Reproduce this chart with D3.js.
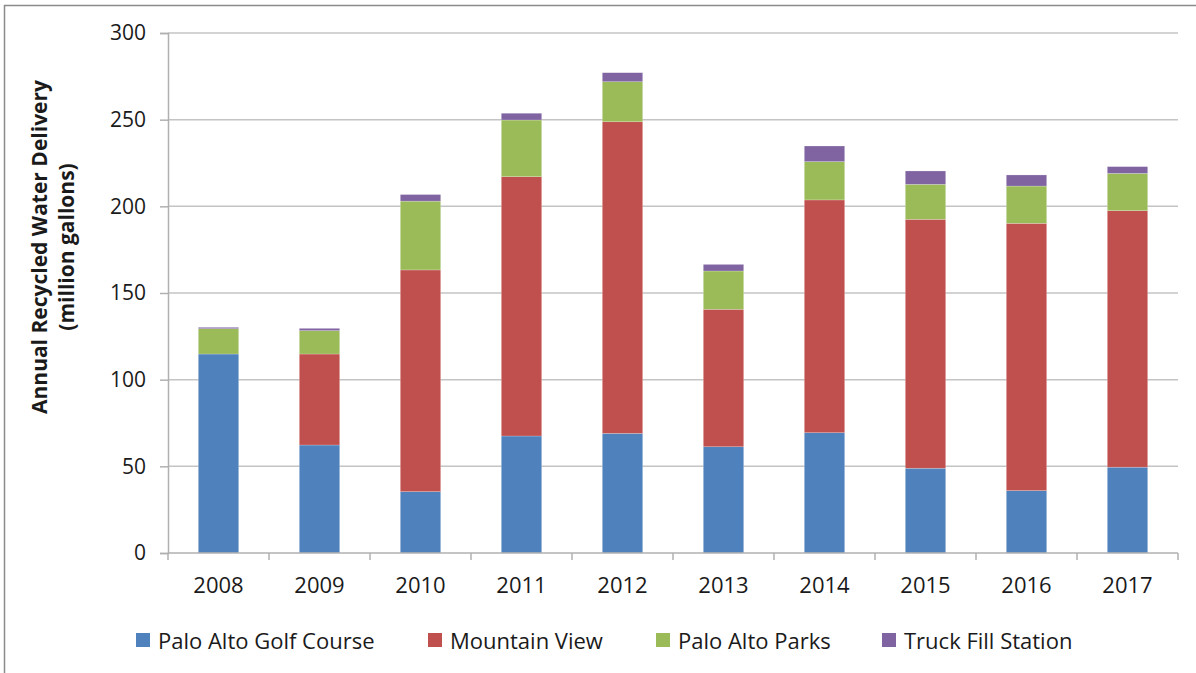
<!DOCTYPE html>
<html>
<head>
<meta charset="utf-8">
<script src="https://cdn.jsdelivr.net/npm/d3@7"></script>
<style>
    body { margin: 0; background: #fff; }
    text { font-family: "Open Sans", sans-serif; fill: #1a1a1a; }
</style>
</head>
<body>
<div class="chart"></div>
<script>
// data (million gallons)
var years = ["2008", "2009", "2010", "2011", "2012", "2013", "2014", "2015", "2016", "2017"];
var golfCourse = [114.8, 62.3, 35.4, 67.5, 69.0, 61.3, 69.4, 48.9, 36.0, 49.5];
var mountainView = [0, 52.5, 127.9, 149.6, 179.8, 79.3, 134.3, 143.6, 154.2, 148.0];
var parks = [14.6, 13.5, 39.7, 32.7, 23.1, 22.1, 22.1, 20.2, 21.5, 21.5];
var truckFill = [0.8, 1.3, 3.8, 3.9, 5.2, 3.8, 9.0, 7.7, 6.4, 3.9];
var seriesNames = ["Palo Alto Golf Course", "Mountain View", "Palo Alto Parks", "Truck Fill Station"];
var seriesColors = ["#4F81BD", "#C0504D", "#9BBB59", "#8064A2"];
var yTicks = [0, 50, 100, 150, 200, 250, 300];

var W = 1196, H = 673;
var margin = { top: 33, right: 18, bottom: 120, left: 168 },
    width = W - margin.left - margin.right,
    height = H - margin.top - margin.bottom;

var root = d3.select(".chart").append("svg")
    .attr("width", W)
    .attr("height", H);

// outer frame (only left and top edges visible)
root.append("rect")
    .attr("x", 4.5).attr("y", 5.5)
    .attr("width", W + 20).attr("height", H + 20)
    .attr("fill", "none")
    .attr("stroke", "#8a8a8a")
    .attr("stroke-width", 1.5);

var svg = root.append("g")
    .attr("transform", "translate(" + margin.left + "," + margin.top + ")");

// build table for stack
var table = years.map(function(yr, i) {
    var row = { year: yr };
    row[seriesNames[0]] = golfCourse[i];
    row[seriesNames[1]] = mountainView[i];
    row[seriesNames[2]] = parks[i];
    row[seriesNames[3]] = truckFill[i];
    return row;
});
var stacked = d3.stack().keys(seriesNames)(table);

var x = d3.scaleBand().domain(years).range([0, width]).padding(0);
var y = d3.scaleLinear().domain([0, 300]).range([height, 0]);
var color = d3.scaleOrdinal().domain(seriesNames).range(seriesColors);

// gridlines
svg.append("g")
    .selectAll("line")
    .data(yTicks.slice(1))
    .enter().append("line")
    .attr("x1", 0).attr("x2", width)
    .attr("y1", function(d) { return y(d); })
    .attr("y2", function(d) { return y(d); })
    .attr("stroke", "#c4c4c4")
    .attr("stroke-width", 1.5);

// y axis
var yAxis = svg.append("g")
    .call(d3.axisLeft(y).tickValues(yTicks).tickSize(8).tickPadding(14));
yAxis.select(".domain").attr("stroke", "#b0b0b0").attr("stroke-width", 1.5);
yAxis.selectAll(".tick line").attr("stroke", "#b0b0b0").attr("stroke-width", 1.5);
yAxis.selectAll(".tick text")
    .style("font-size", "21px")
    .style("font-family", "'Open Sans', sans-serif")
    .attr("fill", "#1a1a1a");

// bars
var barW = x.bandwidth() * 0.4;
svg.append("g")
    .selectAll("g")
    .data(stacked)
    .enter().append("g")
    .attr("fill", function(d) { return color(d.key); })
    .selectAll("rect")
    .data(function(d) { return d; })
    .enter().append("rect")
    .attr("x", function(d) { return x(d.data.year) + (x.bandwidth() - barW) / 2; })
    .attr("width", barW)
    .attr("y", function(d) { return y(d[1]); })
    .attr("height", function(d) { return y(d[0]) - y(d[1]); })
    .attr("stroke", "rgba(255,255,255,0.35)")
    .attr("stroke-width", 0.6);

// x axis (Excel style: ticks between categories)
var xAxis = svg.append("g").attr("transform", "translate(0," + height + ")");
xAxis.append("line")
    .attr("x1", 0).attr("x2", width)
    .attr("stroke", "#b0b0b0").attr("stroke-width", 1.5);
var bounds = years.map(function(yr) { return x(yr); }).concat([width]);
xAxis.selectAll(".sep")
    .data(bounds)
    .enter().append("line")
    .attr("class", "sep")
    .attr("x1", function(d) { return d; })
    .attr("x2", function(d) { return d; })
    .attr("y1", 0).attr("y2", 7)
    .attr("stroke", "#b0b0b0").attr("stroke-width", 1.5);
xAxis.selectAll(".lbl")
    .data(years)
    .enter().append("text")
    .attr("class", "lbl")
    .attr("x", function(d) { return x(d) + x.bandwidth() / 2; })
    .attr("y", 40)
    .attr("text-anchor", "middle")
    .style("font-size", "22px")
    .text(function(d) { return d; });

// y axis title
var titleG = svg.append("g")
    .attr("transform", "translate(-116," + (height / 2 - 46) + ") rotate(-90)");
titleG.append("text")
    .attr("text-anchor", "middle")
    .attr("y", -5)
    .style("font-size", "21px")
    .style("font-weight", "bold")
    .text("Annual  Recycled Water Delivery");
titleG.append("text")
    .attr("text-anchor", "middle")
    .attr("y", 22)
    .style("font-size", "21px")
    .style("font-weight", "bold")
    .text("(million gallons)");

// legend
var legendX = [136, 428, 656, 882];
var legend = root.append("g").attr("transform", "translate(0,640)");
var item = legend.selectAll("g")
    .data(seriesNames)
    .enter().append("g")
    .attr("transform", function(d, i) { return "translate(" + legendX[i] + ",0)"; });
item.append("rect")
    .attr("x", 0).attr("y", -7)
    .attr("width", 14).attr("height", 14)
    .attr("fill", function(d) { return color(d); });
item.append("text")
    .attr("x", 22)
    .attr("y", 0)
    .attr("dominant-baseline", "central")
    .style("font-size", "22px")
    .text(function(d) { return d; });
</script>
</body>
</html>
